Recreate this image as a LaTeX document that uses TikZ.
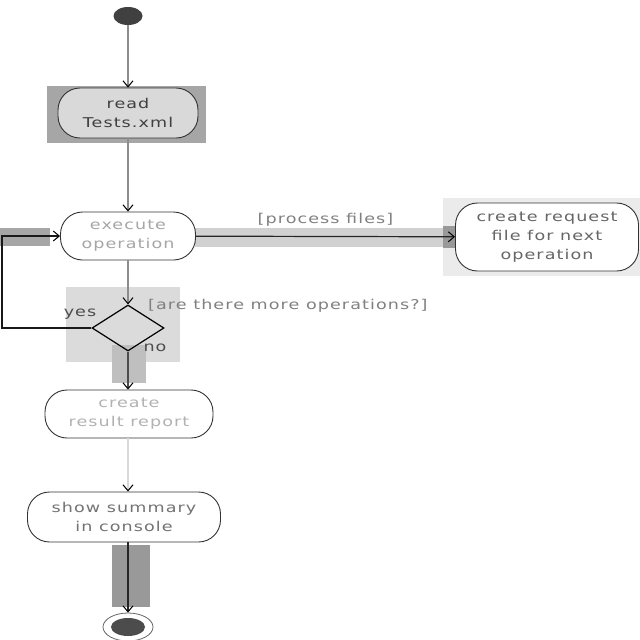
\documentclass[tikz,border=0pt]{standalone}
\usepackage{fontspec}
\setmainfont{DejaVu Sans}[FakeStretch=1.3,LetterSpace=8]
\usetikzlibrary{shapes.geometric,arrows.meta}
\begin{document}
\begin{tikzpicture}[x=1pt,y=-1pt,
  act/.style={draw=black!80,line width=0.9pt,rounded corners=22pt,align=center,
    font=\fontsize{13.5}{19}\selectfont,inner sep=0pt},
  flow/.style={draw=black!45,line width=1.2pt,-{Straight Barb[length=6pt,width=10pt,line width=1pt,color=black]}},
  lbl/.style={font=\fontsize{13.5}{14}\selectfont,text=black!50,inner sep=0pt},
  band/.style={fill=black!#1,draw=none}]
\useasboundingbox (0,0) rectangle (640,640);
% grey highlight backgrounds
\fill[band=35] (47,86) rectangle (206,143);
\fill[band=18] (195,228) rectangle (452,247);
\fill[band=8] (443,198) rectangle (640,276);
\fill[band=40] (443,226) rectangle (460,248);
\fill[band=14] (66,287) rectangle (180,362);
\fill[band=25] (112,345) rectangle (146,383);
\fill[band=35] (0,228) rectangle (50,246);
\fill[band=40] (112,545) rectangle (150,607);
% nodes
\node[ellipse,fill=black!75,minimum width=29pt,minimum height=18pt,inner sep=0pt] (start) at (128,16) {};
\node[act,minimum width=140pt,minimum height=50pt,text=black!75,fill=black!15] (read) at (128,113) {read\\Tests.xml};
\node[act,minimum width=135pt,minimum height=48pt,text=black!35,fill=white] (exec) at (128,236) {execute\\operation};
\node[act,minimum width=183pt,minimum height=68pt,text=black!60,fill=white] (req) at (547,237) {create request\\file for next\\operation};
\node[diamond,draw=black,line width=1.2pt,minimum width=72pt,minimum height=46pt,inner sep=0pt,aspect=1.6] (dec) at (128,328) {};
\node[act,minimum width=168pt,minimum height=48pt,text=black!30,fill=white] (res) at (129,414) {create\\result report};
\node[act,minimum width=193pt,minimum height=50pt,text=black!55,fill=white] (sum) at (124,517) {show summary\\in console};
\node[ellipse,draw=black!60,line width=0.8pt,minimum width=50pt,minimum height=28pt,inner sep=0pt] (endo) at (128,627) {};
\node[ellipse,fill=black!70,minimum width=34pt,minimum height=18pt,inner sep=0pt] (endi) at (128,627) {};
% connectors
\draw[flow] (start) -- (read);
\draw[flow] (read) -- (exec);
\draw[flow,draw=black!85] (exec) -- node[lbl,above=10pt] {[process files]} (req);
\draw[flow] (exec) -- (dec);
\coordinate (lb) at (2,328);
\coordinate (lt) at (2,236);
\draw[flow,draw=black!90,line width=2pt] (dec.west) -- (lb) -- (lt) -- (exec.west);
\draw[flow,draw=black!70,line width=2pt] (dec.south) -- (dec.south |- res.north);
\draw[flow,draw=black!15] (res.south -| dec) -- (dec |- sum.north);
\draw[flow,draw=black!85,line width=2.5pt] (sum.south -| endo) -- (endo);
% labels
\node[lbl,anchor=west] (q) at (148,306) {[are there more operations?]};
\node[lbl,text=black!70] (yes) at (80,314) {yes};
\node[lbl,text=black!70] (no) at (155,348) {no};
\end{tikzpicture}
\end{document}
